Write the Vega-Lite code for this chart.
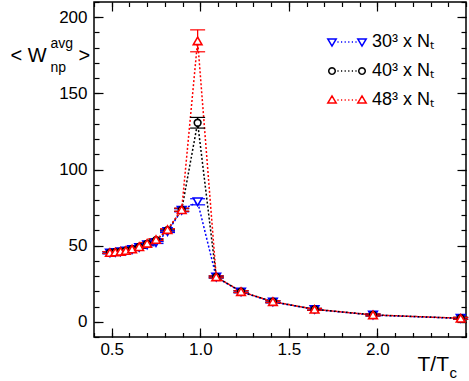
{
  "$schema": "https://vega.github.io/schema/vega-lite/v6.json",
  "width": 372,
  "height": 335,
  "autosize": {"type": "none"},
  "padding": {"left": 94, "top": 2, "right": 3, "bottom": 44},
  "background": "white",
  "data": {"values": [
    {"s": "30³ x Nₜ", "x": 0.49, "y": 45.2, "lo": 44.6, "hi": 45.8},
    {"s": "30³ x Nₜ", "x": 0.52, "y": 45.5, "lo": 44.9, "hi": 46.1},
    {"s": "30³ x Nₜ", "x": 0.55, "y": 45.9, "lo": 45.3, "hi": 46.5},
    {"s": "30³ x Nₜ", "x": 0.58, "y": 46.5, "lo": 45.9, "hi": 47.1},
    {"s": "30³ x Nₜ", "x": 0.615, "y": 47.4, "lo": 46.8, "hi": 48.0},
    {"s": "30³ x Nₜ", "x": 0.655, "y": 48.8, "lo": 48.2, "hi": 49.4},
    {"s": "30³ x Nₜ", "x": 0.70, "y": 50.5, "lo": 49.9, "hi": 51.1},
    {"s": "30³ x Nₜ", "x": 0.75, "y": 52.0, "lo": 51.4, "hi": 52.6},
    {"s": "30³ x Nₜ", "x": 0.815, "y": 59.2, "lo": 58.6, "hi": 59.8},
    {"s": "30³ x Nₜ", "x": 0.895, "y": 73.2, "lo": 72.2, "hi": 74.2},
    {"s": "30³ x Nₜ", "x": 0.985, "y": 78.8, "lo": 76.8, "hi": 80.8},
    {"s": "30³ x Nₜ", "x": 1.09, "y": 29.3, "lo": 28.7, "hi": 29.9},
    {"s": "30³ x Nₜ", "x": 1.23, "y": 19.6, "lo": 19.0, "hi": 20.2},
    {"s": "30³ x Nₜ", "x": 1.41, "y": 13.0, "lo": 12.4, "hi": 13.6},
    {"s": "30³ x Nₜ", "x": 1.645, "y": 8.1, "lo": 7.5, "hi": 8.7},
    {"s": "30³ x Nₜ", "x": 1.975, "y": 4.4, "lo": 3.8, "hi": 5.0},
    {"s": "30³ x Nₜ", "x": 2.47, "y": 2.2, "lo": 1.6, "hi": 2.8},
    {"s": "40³ x Nₜ", "x": 0.49, "y": 45.4, "lo": 44.8, "hi": 46.0},
    {"s": "40³ x Nₜ", "x": 0.52, "y": 45.7, "lo": 45.1, "hi": 46.3},
    {"s": "40³ x Nₜ", "x": 0.55, "y": 46.1, "lo": 45.5, "hi": 46.7},
    {"s": "40³ x Nₜ", "x": 0.58, "y": 46.7, "lo": 46.1, "hi": 47.3},
    {"s": "40³ x Nₜ", "x": 0.615, "y": 47.7, "lo": 47.1, "hi": 48.3},
    {"s": "40³ x Nₜ", "x": 0.655, "y": 49.1, "lo": 48.5, "hi": 49.7},
    {"s": "40³ x Nₜ", "x": 0.70, "y": 51.2, "lo": 50.6, "hi": 51.8},
    {"s": "40³ x Nₜ", "x": 0.75, "y": 53.6, "lo": 53.0, "hi": 54.2},
    {"s": "40³ x Nₜ", "x": 0.815, "y": 60.2, "lo": 59.6, "hi": 60.8},
    {"s": "40³ x Nₜ", "x": 0.895, "y": 73.5, "lo": 72.5, "hi": 74.5},
    {"s": "40³ x Nₜ", "x": 0.985, "y": 130.7, "lo": 127.2, "hi": 134.2},
    {"s": "40³ x Nₜ", "x": 1.09, "y": 29.5, "lo": 28.9, "hi": 30.1},
    {"s": "40³ x Nₜ", "x": 1.23, "y": 19.8, "lo": 19.2, "hi": 20.4},
    {"s": "40³ x Nₜ", "x": 1.41, "y": 13.2, "lo": 12.6, "hi": 13.8},
    {"s": "40³ x Nₜ", "x": 1.645, "y": 8.2, "lo": 7.6, "hi": 8.8},
    {"s": "40³ x Nₜ", "x": 1.975, "y": 4.5, "lo": 3.9, "hi": 5.1},
    {"s": "40³ x Nₜ", "x": 2.47, "y": 2.3, "lo": 1.7, "hi": 2.9},
    {"s": "48³ x Nₜ", "x": 0.49, "y": 45.5, "lo": 44.9, "hi": 46.1},
    {"s": "48³ x Nₜ", "x": 0.52, "y": 45.8, "lo": 45.2, "hi": 46.4},
    {"s": "48³ x Nₜ", "x": 0.55, "y": 46.2, "lo": 45.6, "hi": 46.8},
    {"s": "48³ x Nₜ", "x": 0.58, "y": 46.8, "lo": 46.2, "hi": 47.4},
    {"s": "48³ x Nₜ", "x": 0.615, "y": 47.8, "lo": 47.2, "hi": 48.4},
    {"s": "48³ x Nₜ", "x": 0.655, "y": 49.3, "lo": 48.7, "hi": 49.9},
    {"s": "48³ x Nₜ", "x": 0.70, "y": 51.5, "lo": 50.9, "hi": 52.1},
    {"s": "48³ x Nₜ", "x": 0.75, "y": 54.0, "lo": 53.4, "hi": 54.6},
    {"s": "48³ x Nₜ", "x": 0.815, "y": 60.5, "lo": 59.9, "hi": 61.1},
    {"s": "48³ x Nₜ", "x": 0.895, "y": 73.6, "lo": 72.6, "hi": 74.6},
    {"s": "48³ x Nₜ", "x": 0.985, "y": 184.5, "lo": 177.3, "hi": 191.7},
    {"s": "48³ x Nₜ", "x": 1.09, "y": 29.5, "lo": 28.9, "hi": 30.1},
    {"s": "48³ x Nₜ", "x": 1.23, "y": 19.8, "lo": 19.2, "hi": 20.4},
    {"s": "48³ x Nₜ", "x": 1.41, "y": 13.2, "lo": 12.6, "hi": 13.8},
    {"s": "48³ x Nₜ", "x": 1.645, "y": 8.2, "lo": 7.6, "hi": 8.8},
    {"s": "48³ x Nₜ", "x": 1.975, "y": 4.5, "lo": 3.9, "hi": 5.1},
    {"s": "48³ x Nₜ", "x": 2.47, "y": 2.3, "lo": 1.7, "hi": 2.9}
  ]},
  "resolve": {"axis": {"x": "independent", "y": "independent"}},
  "layer": [
    {
      "mark": {"type": "line", "strokeDash": [2, 2], "strokeWidth": 1.5},
      "encoding": {
        "x": {"field": "x", "type": "quantitative", "scale": {"domain": [0.4, 2.5], "nice": false, "zero": false},
          "axis": {"orient": "bottom", "values": [0.5, 1, 1.5, 2], "format": ".1f", "tickSize": -9, "labelFontSize": 17, "labelPadding": 13, "labelFlush": false,
            "title": "T/T", "titleFontSize": 21, "titleX": 323, "titleY": 33, "titleAlign": "left", "titleBaseline": "alphabetic"}},
        "y": {"field": "y", "type": "quantitative", "scale": {"domain": [-10, 210], "nice": false, "zero": false},
          "axis": {"orient": "left", "values": [0, 50, 100, 150, 200], "tickSize": -9, "labelFontSize": 17, "labelPadding": 16,
            "title": "< W", "titleFontSize": 20, "titleAngle": 0, "titleX": -84, "titleY": 59, "titleAlign": "left", "titleBaseline": "alphabetic"}},
        "stroke": {"field": "s", "type": "nominal", "scale": {"range": ["#0000ff", "#000000", "#ff0000"]}, "legend": null}
      }
    },
    {
      "mark": {"type": "rule", "strokeWidth": 1.3},
      "encoding": {
        "x": {"field": "x", "type": "quantitative",
          "axis": {"orient": "bottom", "values": [0.4,0.5,0.6,0.7,0.8,0.9,1.0,1.1,1.2,1.3,1.4,1.5,1.6,1.7,1.8,1.9,2.0,2.1,2.2,2.3,2.4,2.5], "labels": false, "tickSize": -4.5,
            "title": "c", "titleFontSize": 15, "titleX": 355, "titleY": 40, "titleAlign": "left", "titleBaseline": "alphabetic"}},
        "y": {"field": "lo", "type": "quantitative",
          "axis": {"orient": "left", "values": [-10,0,10,20,30,40,50,60,70,80,90,100,110,120,130,140,150,160,170,180,190,200,210], "labels": false, "tickSize": -5,
            "title": "np", "titleFontSize": 14, "titleAngle": 0, "titleX": -44, "titleY": 69, "titleAlign": "left", "titleBaseline": "alphabetic"}},
        "y2": {"field": "hi"},
        "stroke": {"field": "s", "type": "nominal", "legend": null}
      }
    },
    {
      "mark": {"type": "tick", "orient": "horizontal", "size": 15, "thickness": 1.2, "opacity": 1},
      "encoding": {
        "x": {"field": "x", "type": "quantitative",
          "axis": {"orient": "top", "values": [0.5, 1, 1.5, 2], "labels": false, "tickSize": -9, "title": null}},
        "y": {"field": "lo", "type": "quantitative",
          "axis": {"orient": "right", "values": [0, 50, 100, 150, 200], "labels": false, "tickSize": -9,
            "title": "avg", "titleFontSize": 14, "titleAngle": 0, "titleX": -416, "titleY": 45, "titleAlign": "left", "titleBaseline": "alphabetic"}},
        "fill": {"field": "s", "type": "nominal", "scale": {"range": ["#0000ff", "#000000", "#ff0000"]}, "legend": null}
      }
    },
    {
      "mark": {"type": "tick", "orient": "horizontal", "size": 15, "thickness": 1.2, "opacity": 1},
      "encoding": {
        "x": {"field": "x", "type": "quantitative",
          "axis": {"orient": "top", "values": [0.4,0.5,0.6,0.7,0.8,0.9,1.0,1.1,1.2,1.3,1.4,1.5,1.6,1.7,1.8,1.9,2.0,2.1,2.2,2.3,2.4,2.5], "labels": false, "tickSize": -4.5, "title": null}},
        "y": {"field": "hi", "type": "quantitative",
          "axis": {"orient": "right", "values": [-10,0,10,20,30,40,50,60,70,80,90,100,110,120,130,140,150,160,170,180,190,200,210], "labels": false, "tickSize": -5,
            "title": ">", "titleFontSize": 20, "titleAngle": 0, "titleX": -388, "titleY": 59, "titleAlign": "left", "titleBaseline": "alphabetic"}},
        "fill": {"field": "s", "type": "nominal", "legend": null}
      }
    },
    {
      "transform": [{"filter": "datum.s === '30³ x Nₜ'"}],
      "mark": {"type": "point", "shape": "triangle-down", "size": 75, "filled": false, "strokeWidth": 1.6, "opacity": 1, "fill": "white", "fillOpacity": 1},
      "encoding": {
        "x": {"field": "x", "type": "quantitative", "axis": null},
        "y": {"field": "y", "type": "quantitative", "axis": null},
        "stroke": {"field": "s", "type": "nominal", "legend": null}
      }
    },
    {
      "transform": [{"filter": "datum.s === '40³ x Nₜ'"}],
      "mark": {"type": "point", "shape": "circle", "size": 45, "filled": false, "strokeWidth": 1.6, "opacity": 1, "fill": "white", "fillOpacity": 1},
      "encoding": {
        "x": {"field": "x", "type": "quantitative", "axis": null},
        "y": {"field": "y", "type": "quantitative", "axis": null},
        "stroke": {"field": "s", "type": "nominal", "legend": null}
      }
    },
    {
      "transform": [{"filter": "datum.s === '48³ x Nₜ'"}],
      "mark": {"type": "point", "shape": "triangle-up", "size": 75, "filled": false, "strokeWidth": 1.6, "opacity": 1, "fill": "white", "fillOpacity": 1},
      "encoding": {
        "x": {"field": "x", "type": "quantitative", "axis": null},
        "y": {"field": "y", "type": "quantitative", "axis": null},
        "stroke": {"field": "s", "type": "nominal", "legend": null}
      }
    },
    {
      "mark": {"type": "point", "filled": false, "opacity": 0, "size": 900},
      "encoding": {
        "x": {"field": "x", "type": "quantitative", "axis": null},
        "y": {"field": "y", "type": "quantitative", "axis": null},
        "shape": {"field": "s", "type": "nominal", "scale": {"domain": ["30³ x Nₜ", "40³ x Nₜ", "48³ x Nₜ"], "range": [
          "M-1.28,-0.2L-0.72,-0.2L-1,0.27ZM0.72,-0.2L1.28,-0.2L1,0.27ZM-0.64,0h0.08M-0.4,0h0.08M-0.16,0h0.08M0.08,0h0.08M0.32,0h0.08M0.56,0h0.08",
          "M-0.78,0L-0.81,0.11L-0.89,0.19L-1,0.22L-1.11,0.19L-1.19,0.11L-1.22,0L-1.19,-0.11L-1.11,-0.19L-1,-0.22L-0.89,-0.19L-0.81,-0.11ZM1.22,0L1.19,0.11L1.11,0.19L1,0.22L0.89,0.19L0.81,0.11L0.78,0L0.81,-0.11L0.89,-0.19L1,-0.22L1.11,-0.19L1.19,-0.11ZM-0.64,0h0.08M-0.4,0h0.08M-0.16,0h0.08M0.08,0h0.08M0.32,0h0.08M0.56,0h0.08",
          "M-1.28,0.2L-0.72,0.2L-1,-0.27ZM0.72,0.2L1.28,0.2L1,-0.27ZM-0.64,0h0.08M-0.4,0h0.08M-0.16,0h0.08M0.08,0h0.08M0.32,0h0.08M0.56,0h0.08"
        ]}, "legend": null},
        "color": {"field": "s", "type": "nominal", "scale": {"domain": ["30³ x Nₜ", "40³ x Nₜ", "48³ x Nₜ"], "range": ["#0000ff", "#000000", "#ff0000"]},
          "legend": {"orient": "none", "legendX": 237, "legendY": 24, "title": null, "labelFontSize": 18, "labelFont": "Liberation Sans", "labelColor": "black",
            "symbolSize": 900, "rowPadding": 4, "padding": 0, "labelOffset": 9, "symbolStrokeWidth": 1.5, "symbolOpacity": 1,
            "encode": {"symbols": {
              "fill": {"value": "transparent"},
              "opacity": {"value": 1},
              "strokeWidth": {"value": 1.5},
              "size": {"value": 900}
            }}}
        }
      }
    }
  ],
  "config": {
    "font": "Liberation Sans",
    "view": {"stroke": "black", "strokeWidth": 1.5},
    "axis": {"labelFont": "Liberation Sans", "titleFont": "Liberation Sans", "labelColor": "black", "titleColor": "black", "tickColor": "black", "tickWidth": 1.2, "grid": false, "domain": false, "titleFontWeight": "normal", "titlePadding": 0}
  }
}
